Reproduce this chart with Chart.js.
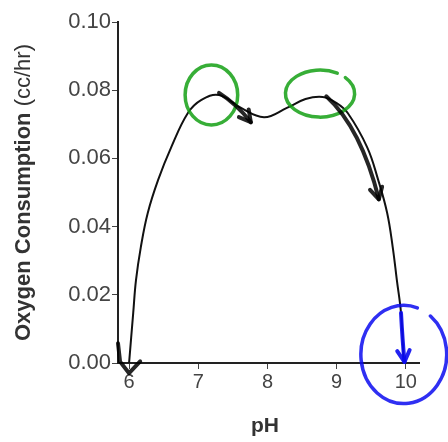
<!DOCTYPE html>
<html>
<head>
<meta charset="utf-8">
<script src="https://cdn.jsdelivr.net/npm/chart.js@4/dist/chart.umd.min.js"></script>
<style>
  html, body { margin: 0; padding: 0; background: #fff; }
  #wrap { width: 448px; height: 442px; }
</style>
</head>
<body>
<div id="wrap"><canvas id="chart"></canvas></div>
<script>
// data
const phValues = [6.0, 6.06, 6.10, 6.17, 6.27, 6.42, 6.61, 6.85, 7.04, 7.3, 7.6, 7.95, 8.28, 8.55, 8.8, 9.0, 9.16, 9.44, 9.6, 9.73, 9.81, 9.87, 9.93, 9.97];
const oxygenValues = [0.0, 0.0147, 0.0243, 0.034, 0.044, 0.0537, 0.0633, 0.0733, 0.0771, 0.0786, 0.0750, 0.0721, 0.0748, 0.0774, 0.0780, 0.0762, 0.0733, 0.0633, 0.0537, 0.044, 0.034, 0.0243, 0.0147, 0.0];
const xTicks = [6, 7, 8, 9, 10];
const yTicks = [0, 0.02, 0.04, 0.06, 0.08, 0.10];

const yTitleBold = 'Oxygen Consumption';
const yTitleRegular = '(cc/hr)';
const xTitle = 'pH';

// hand drawn marks on top of the chart, in data units
const rings = [
    { x: 7.19, y: 0.0786, rx: 0.38, ry: 0.0088, color: 'rgba(20,160,20,0.85)', from: 0, to: 2 * Math.PI },
    { x: 8.76, y: 0.0790, rx: 0.50, ry: 0.0069, color: 'rgba(20,160,20,0.85)', from: -0.75, to: 2 * Math.PI - 1.05 },
    { x: 9.97, y: 0.0025, rx: 0.62, ry: 0.0144, color: 'rgba(10,10,240,0.85)', from: -0.9, to: 2 * Math.PI - 1.25 }
];
const strokes = [
    { color: 'rgba(0,0,0,0.85)', pts: [[7.30, 0.0792], [7.55, 0.0760], [7.76, 0.0706]], head: true },
    { color: 'rgba(0,0,0,0.85)', pts: [[8.85, 0.0782], [9.35, 0.0690], [9.61, 0.0480]], head: true },
    { color: 'rgba(10,10,240,0.9)', pts: [[9.93, 0.0147], [9.95, 0.0070], [9.98, 0.0003]], head: true },
    { color: 'rgba(0,0,0,0.85)', pts: [[5.84, 0.0058], [5.87, 0.0004], [6.0, -0.003], [6.16, 0.0005]], head: false }
];

const annotatePlugin = {
    id: 'annotate',
    afterDatasetsDraw(chart) {
        const ctx = chart.ctx;
        const xs = chart.scales.x, ys = chart.scales.y;
        const px = v => xs.getPixelForValue(v);
        const py = v => ys.getPixelForValue(v);
        ctx.save();
        ctx.lineCap = 'round';
        ctx.lineJoin = 'round';
        rings.forEach(r => {
            ctx.beginPath();
            ctx.strokeStyle = r.color;
            ctx.lineWidth = 3.5;
            const rx = Math.abs(px(r.x + r.rx) - px(r.x));
            const ry = Math.abs(py(r.y + r.ry) - py(r.y));
            ctx.ellipse(px(r.x), py(r.y), rx, ry, 0, r.from, r.to);
            ctx.stroke();
        });
        strokes.forEach(s => {
            ctx.beginPath();
            ctx.strokeStyle = s.color;
            ctx.lineWidth = 4;
            const p = s.pts.map(q => [px(q[0]), py(q[1])]);
            ctx.moveTo(p[0][0], p[0][1]);
            if (p.length === 3) {
                ctx.quadraticCurveTo(p[1][0], p[1][1], p[2][0], p[2][1]);
            } else {
                for (let i = 1; i < p.length; i++) ctx.lineTo(p[i][0], p[i][1]);
            }
            ctx.stroke();
            if (s.head) {
                const end = p[p.length - 1], prev = p[p.length - 2];
                const a = Math.atan2(end[1] - prev[1], end[0] - prev[0]);
                ctx.beginPath();
                ctx.moveTo(end[0] + 13 * Math.cos(a + Math.PI - 0.5), end[1] + 13 * Math.sin(a + Math.PI - 0.5));
                ctx.lineTo(end[0], end[1]);
                ctx.lineTo(end[0] + 13 * Math.cos(a + Math.PI + 0.5), end[1] + 13 * Math.sin(a + Math.PI + 0.5));
                ctx.stroke();
            }
        });
        ctx.restore();
    }
};

const titlesPlugin = {
    id: 'titles',
    afterDraw(chart) {
        const ctx = chart.ctx;
        const area = chart.chartArea;
        ctx.save();
        ctx.fillStyle = '#333';
        ctx.textBaseline = 'middle';
        // y title, bold part and regular part
        const boldFont = 'bold 22px "Liberation Sans", Arial, sans-serif';
        const regFont = '22px "Liberation Sans", Arial, sans-serif';
        ctx.font = boldFont;
        const wb = ctx.measureText(yTitleBold + ' ').width;
        ctx.font = regFont;
        const wr = ctx.measureText(yTitleRegular).width;
        ctx.translate(24, (area.top + area.bottom) / 2);
        ctx.rotate(-Math.PI / 2);
        ctx.textAlign = 'left';
        ctx.font = boldFont;
        ctx.fillText(yTitleBold + ' ', -(wb + wr) / 2, 0);
        ctx.font = regFont;
        ctx.fillText(yTitleRegular, -(wb + wr) / 2 + wb, 0);
        ctx.restore();

        ctx.save();
        ctx.fillStyle = '#333';
        ctx.font = 'bold 21px "Liberation Sans", Arial, sans-serif';
        ctx.textAlign = 'center';
        ctx.textBaseline = 'alphabetic';
        ctx.fillText(xTitle, 265, 432);
        ctx.restore();
    }
};

const config = {
    type: 'line',
    data: {
        datasets: [{
            data: phValues.map((v, i) => ({ x: v, y: oxygenValues[i] })),
            borderColor: '#111',
            borderWidth: 2,
            pointRadius: 0,
            fill: false,
            tension: 0.4
        }]
    },
    options: {
        responsive: true,
        maintainAspectRatio: false,
        animation: false,
        layout: { padding: { top: 22, right: 29, left: 0, bottom: 0 } },
        plugins: { legend: { display: false }, tooltip: { enabled: false } },
        scales: {
            x: {
                type: 'linear',
                min: 5.84,
                max: 10.19,
                afterBuildTicks: axis => { axis.ticks = xTicks.map(v => ({ value: v })); },
                afterFit: axis => { axis.height = 79; },
                ticks: {
                    color: '#444',
                    font: { family: '"Liberation Sans", Arial, sans-serif', size: 20 },
                    padding: 1,
                    maxRotation: 0
                },
                grid: { drawOnChartArea: false, tickLength: 6, color: '#444', lineWidth: 1 },
                border: { color: '#222', width: 2 }
            },
            y: {
                min: 0,
                max: 0.1,
                afterBuildTicks: axis => { axis.ticks = yTicks.map(v => ({ value: v })); },
                afterFit: axis => { axis.width = 118; },
                ticks: {
                    color: '#444',
                    font: { family: '"Liberation Sans", Arial, sans-serif', size: 22 },
                    padding: 1,
                    callback: v => v.toFixed(2)
                },
                grid: { drawOnChartArea: false, tickLength: 6, color: '#444', lineWidth: 1 },
                border: { color: '#222', width: 2 }
            }
        }
    },
    plugins: [annotatePlugin, titlesPlugin]
};

new Chart(document.getElementById('chart'), config);
</script>
</body>
</html>
